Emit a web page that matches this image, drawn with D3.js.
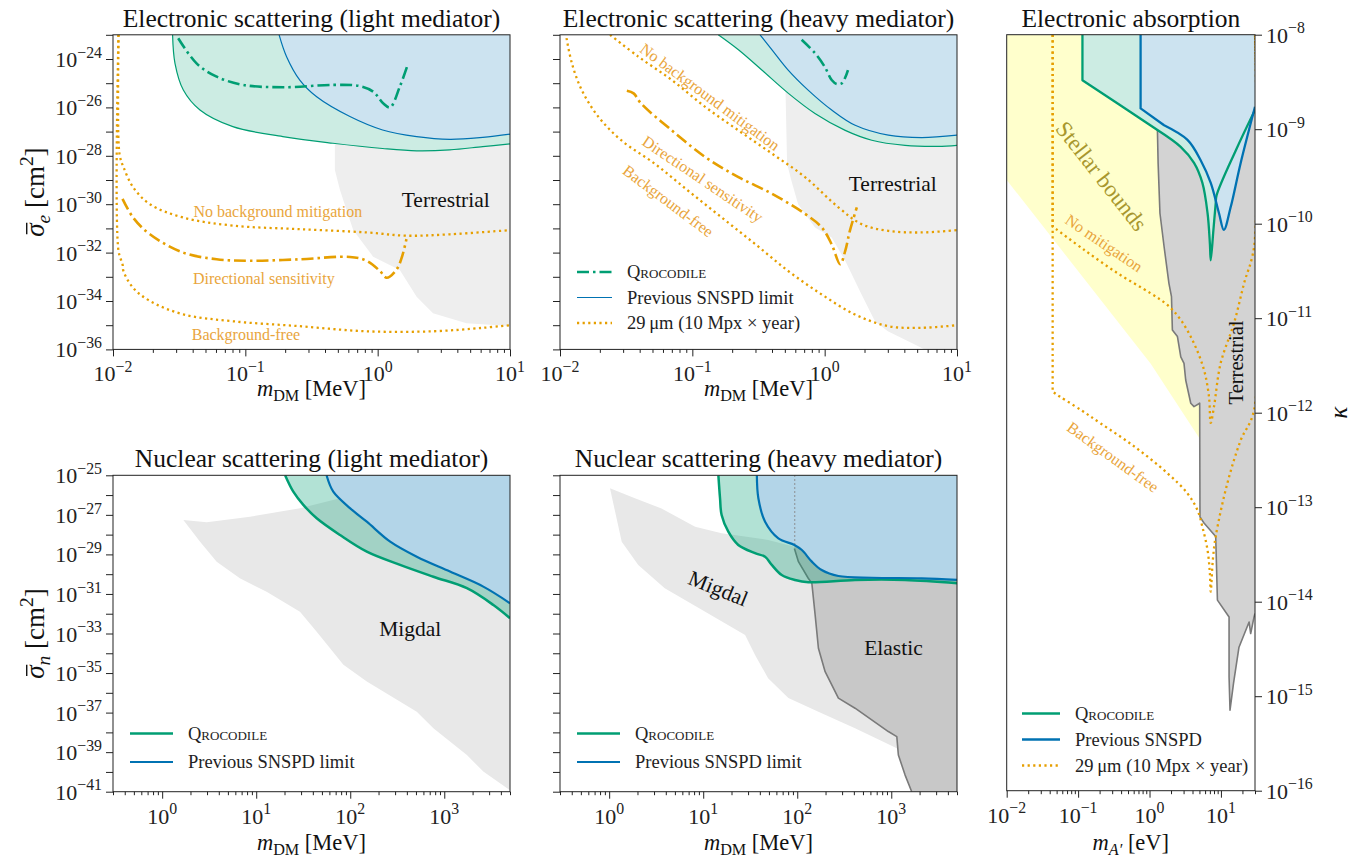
<!DOCTYPE html>
<html>
<head>
<meta charset="utf-8">
<script src="https://cdn.jsdelivr.net/npm/d3@7"></script>
<style>
  body { margin: 0; background: #fff; }
  svg { font-family: 'Liberation Serif', 'DejaVu Serif', serif; }
</style>
</head>
<body>
<svg id="chart" width="1356" height="859"></svg>
<script>
// ---------- data (mass, cross section / coupling) ----------

// electronic scattering, light mediator
const esLightQro = [[0.0282,1e-23],[0.0294,6.6e-25],[0.034,5.2e-26],[0.0454,7.8e-27],[0.0805,1.6e-27],[0.192,6.2e-28],[0.459,3.3e-28],[1.09,2.0e-28],[1.97,1.6e-28],[3.51,1.75e-28],[6.23,2.4e-28],[10,3.1e-28]]
const esLightSnspd = [[0.180,1e-23],[0.205,1.25e-24],[0.258,1.35e-25],[0.346,2.75e-26],[0.617,4.2e-27],[1.09,1.17e-27],[1.97,6.2e-28],[3.51,4.8e-28],[6.23,5.8e-28],[10,7.9e-28]]
const esLightQroDash = [[0.0311,7.2e-24],[0.0428,6.6e-25],[0.0607,1.86e-25],[0.0964,8.5e-26],[0.193,6.8e-26],[0.461,8.5e-26],[0.733,7.6e-26],[0.924,4.5e-26],[1.10,1.48e-26],[1.24,1.0e-26],[1.47,7.2e-26],[1.70,6.6e-25]]
const esLightNoMitig = [[0.011,1e-23],[0.011,4.4e-28],[0.0113,9e-29],[0.012,3.4e-29],[0.0142,5e-30],[0.019,1.0e-30],[0.034,2.8e-31],[0.081,1.3e-31],[0.258,9.3e-32],[0.824,6.8e-32],[1.65,5.0e-32],[3.51,5.7e-32],[10,8.5e-32]]
const esLightDirectional = [[0.0118,1.66e-30],[0.0142,2.8e-31],[0.019,5.7e-32],[0.034,1.0e-32],[0.0607,5.3e-33],[0.108,4.6e-33],[0.258,5.3e-33],[0.617,6.6e-33],[0.824,4.6e-33],[1.04,1.74e-33],[1.17,9.1e-34],[1.39,2.0e-33],[1.52,6.2e-33],[1.65,3.6e-32]]
const esLightBgFree = [[0.011,1e-23],[0.011,1.2e-32],[0.0118,3.3e-33],[0.012,1.7e-33],[0.0142,3.5e-34],[0.019,1.0e-34],[0.034,2.8e-35],[0.081,1.45e-35],[0.258,9.1e-36],[0.824,5.6e-36],[2.62,5.6e-36],[6.27,7.8e-36],[10,1.0e-35]]
const esLightTerrestrial = [[0.475,1e-27],[0.475,2.6e-29],[0.519,3.9e-30],[0.653,8.5e-32],[0.924,6.8e-33],[1.47,1.9e-33],[1.97,1.5e-34],[2.62,3.1e-35],[4.69,1.2e-35],[10,9.3e-36],[10,1e-27]]

// electronic scattering, heavy mediator
const esHeavyQro = [[0.157,1e-23],[0.223,2.4e-24],[0.335,3.5e-25],[0.532,3.8e-26],[0.845,5.6e-27],[1.43,1.12e-27],[2.27,4.4e-28],[4.05,2.7e-28],[7.2,2.45e-28],[10,2.7e-28]]
const esHeavySnspd = [[0.325,1e-23],[0.40,2.4e-24],[0.53,3.5e-25],[0.75,5.2e-26],[1.13,7.8e-27],[1.70,1.82e-27],[3.03,7.1e-28],[5.4,5.6e-28],[10,7.1e-28]]
const esHeavyQroDash = [[0.67,6.2e-24],[0.845,1.74e-24],[1.0,4.8e-25],[1.13,1.35e-25],[1.23,9.3e-26],[1.35,1.0e-25],[1.5,3.5e-25]]
const esHeavyNoMitig = [[0.0239,1e-23],[0.039,1.26e-24],[0.070,1.35e-25],[0.125,1.05e-26],[0.223,1.12e-27],[0.40,1.23e-28],[0.71,1.32e-29],[1.27,7.4e-31],[1.9,1.5e-31],[3.03,7.9e-32],[5.4,6.8e-32],[10,8.5e-32]]
const esHeavyDirectional = [[0.032,4.9e-26],[0.036,3.8e-26],[0.041,1.45e-26],[0.070,1.12e-27],[0.125,8.9e-29],[0.223,1.32e-29],[0.40,2.7e-30],[0.71,4.0e-31],[0.95,1.1e-31],[1.13,2.2e-32],[1.31,3.3e-33],[1.43,1.17e-32],[1.55,7.9e-32],[1.75,7.4e-31]]
const esHeavyBgFree = [[0.0112,7.3e-24],[0.0123,6.6e-25],[0.0146,5.2e-26],[0.0195,4.1e-27],[0.029,4.4e-28],[0.052,4.7e-29],[0.093,3.6e-30],[0.167,2.8e-31],[0.30,2.2e-32],[0.53,1.74e-33],[0.95,1.86e-34],[1.70,2.75e-35],[3.03,9.1e-36],[5.4,7.8e-36],[10,1.0e-35]]
const esHeavyTerrestrial = [[0.50,1e-24],[0.52,4.7e-29],[0.56,9.5e-30],[0.63,1.0e-30],[0.845,1.1e-31],[1.13,4.2e-32],[1.43,4.6e-33],[1.9,1.86e-34],[2.4,1.45e-35],[3.0,5.6e-36],[4.8,1.6e-36],[5.7,1e-36],[10,1e-36],[10,1e-24]]

// electronic absorption
const absQro = [[0.115,1e-8],[0.115,3.3e-9],[0.385,1.8e-9],[1.29,9.8e-10],[2.73,6.5e-10],[4.2,4.4e-10],[5.5,2.7e-10],[6.5,1.29e-10],[7.0,6.2e-11],[7.2,4.1e-11],[7.85,8.6e-11],[8.45,1.64e-10],[8.7,2.0e-10],[16.2,6.0e-10],[30,1.6e-9]]
const absSnspd = [[0.75,1e-8],[0.75,1.66e-9],[1.6,1.1e-9],[3.4,7.7e-10],[5.2,4.7e-10],[7.2,2.7e-10],[9.4,1.29e-10],[11.0,8.6e-11],[13.7,1.5e-10],[18.9,4.4e-10],[30,1.73e-9]]
const absStellar = [[0.01,1e-8],[0.01,2.9e-10],[1.04,3.3e-12],[5.05,5.3e-13],[5.05,1e-8]]
const absTerrestrial = [[1.29,9.8e-10],[1.32,4.35e-10],[1.40,1.29e-10],[1.60,5.7e-11],[1.87,2.34e-11],[2.03,1.69e-11],[2.09,7.5e-12],[2.46,6.4e-12],[2.74,3.9e-12],[3.04,3.33e-12],[3.21,2.22e-12],[3.78,1.26e-12],[4.2,1.16e-12],[5.04,1.26e-12],[5.09,7.9e-14],[5.79,6.8e-14],[8.45,4.9e-14],[8.93,1.04e-14],[13.0,6.9e-15],[13.0,1.61e-15],[13.4,7.1e-16],[15.0,1.37e-15],[17.9,3.3e-15],[24.8,6.1e-15],[26.1,4.6e-15],[29.1,6.9e-15],[30,7.5e-15]]
const absNoMitig = [[0.044,1e-8],[0.044,9.3e-11],[0.051,8.6e-11],[0.121,5.3e-11],[0.355,3.0e-11],[1.04,1.83e-11],[1.78,1.38e-11],[2.74,9.6e-12],[4.2,5.4e-12],[5.8,2.83e-12],[6.8,1.48e-12],[7.2,7.8e-13],[8.0,1.16e-12],[9.9,3.33e-12],[15.2,8.8e-12],[21.1,2.34e-11],[29.1,5.7e-11],[30,1e-8]]
const absBgFree = [[0.044,1e-8],[0.044,1.67e-12],[0.051,1.54e-12],[0.109,1.07e-12],[0.207,7.7e-13],[0.61,4.4e-13],[1.78,2.29e-13],[3.4,1.40e-13],[4.7,9.3e-14],[5.5,6.2e-14],[6.5,3.5e-14],[7.0,2.0e-14],[7.2,1.28e-14],[7.7,2.76e-14],[8.45,4.9e-14],[12.3,1.79e-13],[18.9,5.1e-13],[29.1,1.07e-12],[30,1e-8]]

// nuclear scattering, light mediator
const nsLightQro = [[20.3,1e-25],[24.8,1.48e-26],[31.7,3.2e-27],[44,6.7e-28],[78,9.5e-29],[150,1.38e-29],[339,2.95e-30],[766,7.4e-31],[1740,1.95e-31],[3330,2.75e-32],[5000,5.9e-33]]
const nsLightSnspd = [[56,1e-25],[66,1.48e-26],[100,2.14e-27],[150,4.5e-28],[266,4.4e-29],[510,7.6e-30],[1150,1.35e-30],[2600,2.35e-31],[5000,3.4e-32]]
const nsLightMigdalTop = [[1.68,5.5e-28],[2.98,4.2e-28],[8.6,8.1e-28],[29.2,2.14e-27],[78,6.9e-27],[5000,1e-25]]
const nsLightMigdalBottom = [[1.68,5.5e-28],[2.53,4.4e-29],[3.8,4.3e-30],[6.7,6.2e-31],[12.9,1.3e-31],[29.2,1.26e-32],[44,1.23e-33],[84.6,2.6e-35],[150,3.7e-36],[510,1.12e-37],[766,1.62e-38],[1740,7.2e-40],[2600,1.04e-40],[5000,1.2e-41]]

// nuclear scattering, heavy mediator
const nsHeavyQro = [[14.5,1e-25],[15.1,6.9e-27],[15.7,9.8e-28],[18.5,1.4e-28],[23.6,3.0e-29],[35.6,1.15e-29],[45.5,7.6e-30],[53.6,2.95e-30],[68.4,9.1e-31],[94.8,5.1e-31],[131,3.9e-31],[412,5.1e-31],[1400,5.1e-31],[5000,3.5e-31]]
const nsHeavySnspd = [[37.2,1e-25],[38.6,6.9e-27],[45.5,4.5e-28],[63,6.5e-29],[93.3,3.0e-29],[112,1.66e-29],[143,4.3e-30],[182,1.62e-30],[274,8.1e-31],[621,6.6e-31],[2110,6.2e-31],[5000,5.1e-31]]
const nsHeavyNucleon = [[94,1e-25],[94,3.0e-29]]
const nsHeavyElastic = [[93.3,2.0e-29],[103,4.3e-30],[131,6.2e-31],[143,3.5e-31],[155,8.7e-33],[168,1.8e-34],[198,1.17e-35],[274,5.4e-37],[412,1.67e-37],[931,1.1e-38],[1145,6.1e-39],[1190,7.2e-40],[1400,7.1e-41],[1650,1e-41]]
const nsHeavyMigdalTop = [[1.02,2.2e-26],[1.88,6.9e-27],[3.6,2.1e-27],[8.2,2.5e-28],[15.7,1.17e-28],[49,5.4e-29],[93.3,2.45e-29],[5000,1e-25]]
const nsHeavyMigdalBottom = [[1.02,2.2e-26],[1.36,4.4e-29],[2.04,2.95e-30],[3.9,1.95e-31],[10.5,1.26e-32],[27.9,8.5e-34],[35.6,8.2e-35],[49,5.5e-36],[80.5,5.4e-37],[182,9.3e-38],[412,1.62e-38],[1145,1.58e-39],[1190,7.2e-40],[5000,1e-41]]

// axes: domains and labelled exponents
const esXDomain = [1e-2, 10], esYDomain = [1e-36, 1e-23]
const nsXDomain = [0.3, 5000], nsYDomain = [1e-41, 1e-25]
const absXDomain = [1e-2, 30], absYDomain = [1e-16, 1e-8]
const esXLabels = [-2, -1, 0, 1]
const esYLabels = [-36, -34, -32, -30, -28, -26, -24]
const nsXLabels = [0, 1, 2, 3]
const nsYLabels = [-41, -39, -37, -35, -33, -31, -29, -27, -25]
const absXLabels = [-2, -1, 0, 1]
const absYLabels = [-16, -15, -14, -13, -12, -11, -10, -9, -8]

// ---------- style ----------
const C = {
  green: '#009E73', blue: '#0072B2', orange: '#E69F00',
  greenFill: '#CCECE3', blueFill: '#CCE3F0',
  greenAlpha: 'rgba(0,158,115,0.3)', blueSolid: '#B3D5E8',
  terr: '#EEEEEE', terrDark: '#D3D3D3', edge: '#7A7A7A',
  migdal: '#E8E8E8', elastic: '#C8C8C8', stellar: '#FFFFCC',
  annot: '#E9A53C', stellarText: '#A8972E', spine: '#222'
}
const DOT = '2.2,3.4'
const DASHDOT = '12,4,2.5,4'
const TICK_FONT = 22
const BIG_NOTE = 21.5
const SMALL_NOTE = 16

const svg = d3.select('#chart')

function panel(id, box, xDomain, yDomain) {
  const x = d3.scaleLog().domain(xDomain).range([box.left, box.right])
  const y = d3.scaleLog().domain(yDomain).range([box.bottom, box.top])
  svg.append('clipPath').attr('id', 'clip-' + id)
    .append('rect')
    .attr('x', box.left).attr('y', box.top)
    .attr('width', box.right - box.left).attr('height', box.bottom - box.top)
  const g = svg.append('g').attr('clip-path', 'url(#clip-' + id + ')')
  return { id, box, x, y, g }
}

const smooth = d3.curveCatmullRom.alpha(0.5)

// curve may be a d3 curve, or a number k: straight through point k, smooth after
function pathOf(p, pts, curve) {
  const gen = c => d3.line().x(d => p.x(d[0])).y(d => p.y(d[1])).curve(c)
  if (typeof curve === 'number') {
    return gen(d3.curveLinear)(pts.slice(0, curve + 1)) +
      gen(smooth)(pts.slice(curve)).replace(/^M/, 'L')
  }
  return gen(curve || d3.curveLinear)(pts)
}

function fillAbove(p, pts, fill, curve) {
  const top = p.y.domain()[1]
  const a = pts[0], b = pts[pts.length - 1]
  const d = pathOf(p, pts, curve) +
    'L' + p.x(b[0]) + ',' + p.y(top) +
    'L' + p.x(a[0]) + ',' + p.y(top) + 'Z'
  p.g.append('path').attr('d', d).attr('fill', fill)
}
function fillShape(p, pts, fill, curve) {
  p.g.append('path').attr('d', pathOf(p, pts, curve) + 'Z').attr('fill', fill)
}
function stroke(p, pts, color, width, dash, curve) {
  p.g.append('path')
    .attr('d', pathOf(p, pts, curve))
    .attr('fill', 'none')
    .attr('stroke', color)
    .attr('stroke-width', width)
    .attr('stroke-dasharray', dash || null)
    .attr('stroke-linejoin', 'round')
}

function powText(sel, exp, size) {
  sel.attr('font-size', size)
  sel.append('tspan').text('10')
  sel.append('tspan')
    .attr('dy', -size * 0.42)
    .attr('font-size', size * 0.72)
    .text(String(exp).replace('-', '\u2212'))
}

// rich text: parts {t, it, sub, sup}
function rich(sel, parts, size) {
  let shift = 0
  sel.attr('font-size', size)
  parts.forEach(pt => {
    const target = pt.sub ? size * 0.22 : pt.sup ? -size * 0.42 : 0
    sel.append('tspan')
      .attr('dy', target - shift)
      .attr('font-size', pt.sub || pt.sup ? size * 0.72 : size)
      .attr('font-style', pt.it ? 'italic' : null)
      .text(pt.t)
    shift = target
  })
}

function drawAxes(p, o) {
  const b = p.box
  const xMajor = o.xLabels.map(e => Math.pow(10, e))
  const xMinor = p.x.ticks().filter(v => !xMajor.some(m => Math.abs(m - v) / m < 1e-6))

  const gx = svg.append('g').attr('transform', 'translate(0,' + b.bottom + ')')
  gx.append('g').call(d3.axisBottom(p.x).tickValues(xMajor).tickSize(7).tickFormat(''))
  gx.append('g').call(d3.axisBottom(p.x).tickValues(xMinor).tickSize(3.5).tickFormat(''))
  gx.selectAll('.domain').remove()
  gx.selectAll('line').attr('stroke', C.spine)

  o.xLabels.forEach(e => {
    const t = svg.append('text')
      .attr('x', p.x(Math.pow(10, e)))
      .attr('y', b.bottom + 32)
      .attr('text-anchor', 'middle')
      .attr('fill', '#222')
    powText(t, e, TICK_FONT)
  })

  const [lo, hi] = p.y.domain().map(v => Math.round(Math.log10(v)))
  const yTicks = d3.range(lo, hi + 1).map(e => Math.pow(10, e))
  const right = o.yRight
  const gy = svg.append('g').attr('transform', 'translate(' + (right ? b.right : b.left) + ',0)')
  gy.call((right ? d3.axisRight(p.y) : d3.axisLeft(p.y)).tickValues(yTicks).tickSize(7).tickFormat(''))
  gy.selectAll('.domain').remove()
  gy.selectAll('line').attr('stroke', C.spine)

  if (o.yText) {
    o.yLabels.forEach(e => {
      const t = svg.append('text')
        .attr('x', right ? b.right + 11 : b.left - 11)
        .attr('y', p.y(Math.pow(10, e)) + 8)
        .attr('text-anchor', right ? 'start' : 'end')
        .attr('fill', '#222')
      powText(t, e, TICK_FONT)
    })
  }

  svg.append('rect')
    .attr('x', b.left).attr('y', b.top)
    .attr('width', b.right - b.left).attr('height', b.bottom - b.top)
    .attr('fill', 'none').attr('stroke', C.spine).attr('stroke-width', 1)
}

function title(p, txt) {
  svg.append('text')
    .attr('x', (p.box.left + p.box.right) / 2)
    .attr('y', p.box.top - 8)
    .attr('text-anchor', 'middle')
    .attr('font-size', 25.5)
    .attr('fill', '#111')
    .text(txt)
}

function note(p, m, v, txt, o) {
  svg.append('text')
    .attr('transform', 'translate(' + p.x(m) + ',' + p.y(v) + ') rotate(' + (o.angle || 0) + ')')
    .attr('text-anchor', 'middle')
    .attr('dy', '0.35em')
    .attr('font-size', o.size)
    .attr('fill', o.color)
    .text(txt)
}

function legend(x0, y0, rows) {
  rows.forEach((r, i) => {
    const y = y0 + i * r.step
    svg.append('line')
      .attr('x1', x0).attr('x2', x0 + r.len).attr('y1', y).attr('y2', y)
      .attr('stroke', r.color).attr('stroke-width', r.width)
      .attr('stroke-dasharray', r.dash || null)
    svg.append('text')
      .attr('x', x0 + r.len + 15).attr('y', y + 6)
      .attr('font-size', 18.5)
      .attr('fill', '#222')
      .style('font-variant', r.caps ? 'small-caps' : null)
      .text(r.label)
  })
}

function mdmLabel(p, y) {
  const t = svg.append('text')
    .attr('x', (p.box.left + p.box.right) / 2)
    .attr('y', y)
    .attr('text-anchor', 'middle')
    .attr('fill', '#111')
  rich(t, [{ t: 'm', it: true }, { t: 'DM', sub: true }, { t: ' [MeV]' }], 22.5)
}

// ---------- panels ----------
const pEL = panel('el', { left: 113, right: 510, top: 34.8, bottom: 349.4 }, esXDomain, esYDomain)
const pEH = panel('eh', { left: 560, right: 957, top: 34.8, bottom: 349.4 }, esXDomain, esYDomain)
const pAB = panel('ab', { left: 1006.7, right: 1255, top: 34.7, bottom: 790.7 }, absXDomain, absYDomain)
const pNL = panel('nl', { left: 113, right: 510, top: 475.3, bottom: 791.7 }, nsXDomain, nsYDomain)
const pNH = panel('nh', { left: 560, right: 957, top: 475.3, bottom: 791.7 }, nsXDomain, nsYDomain)

// electronic scattering, light mediator
fillShape(pEL, esLightTerrestrial, C.terr, d3.curveLinear)
fillAbove(pEL, esLightQro, C.greenFill, smooth)
fillAbove(pEL, esLightSnspd, C.blueFill, smooth)
stroke(pEL, esLightQro, C.green, 1.2, null, smooth)
stroke(pEL, esLightSnspd, C.blue, 1.2, null, smooth)
stroke(pEL, esLightQroDash, C.green, 2.6, DASHDOT, smooth)
stroke(pEL, esLightNoMitig, C.orange, 2.3, DOT, smooth)
stroke(pEL, esLightBgFree, C.orange, 2.3, DOT, smooth)
stroke(pEL, esLightDirectional, C.orange, 2.6, DASHDOT, smooth)
note(pEL, 3.27, 1.6e-30, 'Terrestrial', { size: BIG_NOTE, color: '#111' })
note(pEL, 0.176, 4.9e-31, 'No background mitigation', { size: SMALL_NOTE, color: C.annot })
note(pEL, 0.138, 8.7e-34, 'Directional sensitivity', { size: SMALL_NOTE, color: C.annot })
note(pEL, 0.101, 4.0e-36, 'Background-free', { size: SMALL_NOTE, color: C.annot })

// electronic scattering, heavy mediator
fillShape(pEH, esHeavyTerrestrial, C.terr, d3.curveLinear)
fillAbove(pEH, esHeavyQro, C.greenFill, smooth)
fillAbove(pEH, esHeavySnspd, C.blueFill, smooth)
stroke(pEH, esHeavyQro, C.green, 1.2, null, smooth)
stroke(pEH, esHeavySnspd, C.blue, 1.2, null, smooth)
stroke(pEH, esHeavyQroDash, C.green, 2.6, DASHDOT, smooth)
stroke(pEH, esHeavyNoMitig, C.orange, 2.3, DOT, smooth)
stroke(pEH, esHeavyBgFree, C.orange, 2.3, DOT, smooth)
stroke(pEH, esHeavyDirectional, C.orange, 2.6, DASHDOT, smooth)
note(pEH, 3.27, 7.2e-30, 'Terrestrial', { size: BIG_NOTE, color: '#111' })
note(pEH, 0.136, 2.75e-26, 'No background mitigation', { size: SMALL_NOTE, color: C.annot, angle: 36.4 })
note(pEH, 0.120, 1.1e-29, 'Directional sensitivity', { size: SMALL_NOTE, color: C.annot, angle: 34 })
note(pEH, 0.0658, 1.38e-30, 'Background-free', { size: SMALL_NOTE, color: C.annot, angle: 36.9 })

// electronic absorption
fillShape(pAB, absStellar, C.stellar)
fillShape(pAB, absTerrestrial.concat([[30, 1e-8], [1.29, 1e-8]]), C.terrDark)
stroke(pAB, absTerrestrial, C.edge, 1.6)
fillAbove(pAB, absQro, C.greenFill, 3)
fillAbove(pAB, absSnspd, C.blueFill, 2)
stroke(pAB, absQro, C.green, 2.3, null, 3)
stroke(pAB, absSnspd, C.blue, 2.3, null, 2)
stroke(pAB, absNoMitig, C.orange, 2.3, DOT, 2)
stroke(pAB, absBgFree, C.orange, 2.3, DOT, 2)
note(pAB, 0.215, 3.2e-10, 'Stellar bounds', { size: 23, color: C.stellarText, angle: 51.8 })
note(pAB, 0.231, 6.25e-11, 'No mitigation', { size: SMALL_NOTE, color: C.annot, angle: 34.2 })
note(pAB, 0.309, 3.4e-13, 'Background-free', { size: SMALL_NOTE, color: C.annot, angle: 35.8 })
note(pAB, 16.4, 3.4e-12, 'Terrestrial', { size: BIG_NOTE - 1, color: '#111', angle: -90 })

// nuclear scattering, light mediator
fillShape(pNL, nsLightMigdalTop.concat(nsLightMigdalBottom.slice().reverse()), C.migdal)
fillAbove(pNL, nsLightQro, C.greenAlpha, smooth)
fillAbove(pNL, nsLightSnspd, C.blueSolid, smooth)
stroke(pNL, nsLightQro, C.green, 2.5, null, smooth)
stroke(pNL, nsLightSnspd, C.blue, 2.2, null, smooth)
note(pNL, 434, 1.84e-33, 'Migdal', { size: BIG_NOTE, color: '#111' })

// nuclear scattering, heavy mediator
fillShape(pNH, nsHeavyMigdalTop.concat(nsHeavyMigdalBottom.slice().reverse()), C.migdal)
fillShape(pNH, nsHeavyElastic.concat([[5000, 1e-41], [5000, 1e-25], [93.3, 1e-25]]), C.elastic)
stroke(pNH, nsHeavyElastic, C.edge, 1.6)
fillAbove(pNH, nsHeavyQro, C.greenAlpha, smooth)
fillAbove(pNH, nsHeavySnspd, C.blueSolid, smooth)
stroke(pNH, nsHeavyNucleon, '#888', 1.2, '1.5,2.5')
stroke(pNH, nsHeavyQro, C.green, 2.5, null, smooth)
stroke(pNH, nsHeavySnspd, C.blue, 2.2, null, smooth)
note(pNH, 14.5, 1.95e-31, 'Migdal', { size: BIG_NOTE, color: '#111', angle: 22 })
note(pNH, 1055, 1.9e-34, 'Elastic', { size: BIG_NOTE, color: '#111' })

// axes
drawAxes(pEL, { xLabels: esXLabels, yLabels: esYLabels, yText: true })
drawAxes(pEH, { xLabels: esXLabels, yLabels: esYLabels, yText: false })
drawAxes(pAB, { xLabels: absXLabels, yLabels: absYLabels, yText: true, yRight: true })
drawAxes(pNL, { xLabels: nsXLabels, yLabels: nsYLabels, yText: true })
drawAxes(pNH, { xLabels: nsXLabels, yLabels: nsYLabels, yText: false })

title(pEL, 'Electronic scattering (light mediator)')
title(pEH, 'Electronic scattering (heavy mediator)')
title(pAB, 'Electronic absorption')
title(pNL, 'Nuclear scattering (light mediator)')
title(pNH, 'Nuclear scattering (heavy mediator)')

mdmLabel(pEL, 396)
mdmLabel(pEH, 396)
mdmLabel(pNL, 850)
mdmLabel(pNH, 850)

const ma = svg.append('text')
  .attr('x', (pAB.box.left + pAB.box.right) / 2)
  .attr('y', 850)
  .attr('text-anchor', 'middle')
  .attr('fill', '#111')
rich(ma, [{ t: 'm', it: true }, { t: 'A\u2032', sub: true, it: true }, { t: ' [eV]' }], 22.5)

function sigmaLabel(cy, sub) {
  const size = 27
  const g = svg.append('g').attr('transform', 'translate(44,' + cy + ') rotate(-90)')
  const t = g.append('text').attr('text-anchor', 'middle').attr('fill', '#111')
  rich(t, [{ t: '\u03C3', it: true }, { t: sub, sub: true, it: true }, { t: ' [cm' }, { t: '2', sup: true }, { t: ']' }], size)
  const r = t.node().getExtentOfChar(0)
  g.append('line')
    .attr('x1', r.x + r.width * 0.2).attr('x2', r.x + r.width * 1.05)
    .attr('y1', -size * 0.64).attr('y2', -size * 0.64)
    .attr('stroke', '#111').attr('stroke-width', 1.4)
}
sigmaLabel((pEL.box.top + pEL.box.bottom) / 2, 'e')
sigmaLabel((pNL.box.top + pNL.box.bottom) / 2, 'n')

svg.append('text')
  .attr('transform', 'translate(1338,' + ((pAB.box.top + pAB.box.bottom) / 2) + ') rotate(-90)')
  .attr('text-anchor', 'middle')
  .attr('dy', '0.35em')
  .attr('font-size', 25)
  .attr('font-style', 'italic')
  .attr('fill', '#111')
  .text('\u03BA')

// legends
legend(577, 272, [
  { label: 'Qrocodile', caps: true, color: C.green, width: 2.6, dash: DASHDOT, len: 35, step: 25.5 },
  { label: 'Previous SNSPD limit', color: C.blue, width: 1.2, len: 35, step: 25.5 },
  { label: '29\u2009\u03BCm (10 Mpx \u00D7 year)', color: C.orange, width: 2.3, dash: DOT, len: 35, step: 25.5 }
])
legend(1022, 713.5, [
  { label: 'Qrocodile', caps: true, color: C.green, width: 2.5, len: 38, step: 26 },
  { label: 'Previous SNSPD', color: C.blue, width: 2.5, len: 38, step: 26 },
  { label: '29\u2009\u03BCm (10 Mpx \u00D7 year)', color: C.orange, width: 2.3, dash: DOT, len: 38, step: 26 }
])
legend(130, 733.5, [
  { label: 'Qrocodile', caps: true, color: C.green, width: 2.5, len: 43, step: 28.5 },
  { label: 'Previous SNSPD limit', color: C.blue, width: 2.2, len: 43, step: 28.5 }
])
legend(577, 733.5, [
  { label: 'Qrocodile', caps: true, color: C.green, width: 2.5, len: 43, step: 28.5 },
  { label: 'Previous SNSPD limit', color: C.blue, width: 2.2, len: 43, step: 28.5 }
])
</script>
</body>
</html>
